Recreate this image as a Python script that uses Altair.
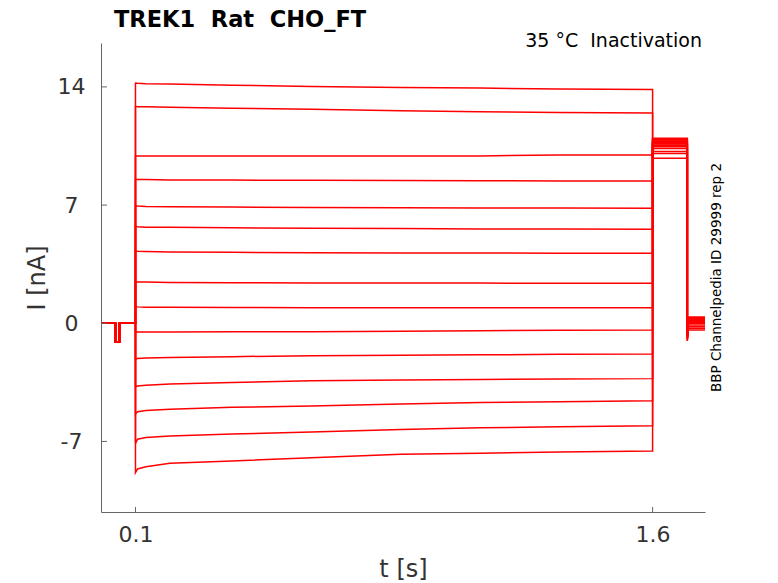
import altair as alt
import pandas as pd

# sample times of the test step (s)
step_t = [0.1, 0.106, 0.13, 0.2, 0.38, 0.61, 0.87, 1.1, 1.33, 1.6]

# current during the step for each sweep (nA)
sweeps = [
    [14.22, 14.21, 14.19, 14.17, 14.10, 14.03, 13.97, 13.93, 13.87, 13.84],
    [12.85, 12.83, 12.82, 12.79, 12.74, 12.67, 12.59, 12.53, 12.49, 12.46],
    [9.91, 9.91, 9.91, 9.90, 9.90, 9.90, 9.90, 9.91, 9.97, 9.97],
    [8.53, 8.52, 8.51, 8.49, 8.48, 8.47, 8.46, 8.44, 8.43, 8.43],
    [6.95, 6.94, 6.92, 6.90, 6.88, 6.86, 6.84, 6.83, 6.82, 6.81],
    [5.72, 5.71, 5.69, 5.68, 5.65, 5.62, 5.61, 5.59, 5.58, 5.57],
    [4.28, 4.27, 4.25, 4.22, 4.20, 4.18, 4.16, 4.16, 4.15, 4.15],
    [2.47, 2.45, 2.44, 2.42, 2.40, 2.39, 2.38, 2.38, 2.37, 2.37],
    [0.98, 0.97, 0.95, 0.95, 0.94, 0.92, 0.92, 0.92, 0.92, 0.92],
    [-0.52, -0.52, -0.52, -0.52, -0.50, -0.50, -0.47, -0.44, -0.42, -0.40],
    [-2.12, -2.09, -2.06, -2.03, -1.98, -1.92, -1.89, -1.87, -1.84, -1.82],
    [-3.76, -3.72, -3.67, -3.60, -3.51, -3.40, -3.36, -3.33, -3.30, -3.28],
    [-5.37, -5.24, -5.17, -5.10, -4.98, -4.90, -4.78, -4.70, -4.65, -4.59],
    [-7.11, -6.87, -6.77, -6.68, -6.56, -6.44, -6.30, -6.19, -6.13, -6.07],
    [-8.85, -8.63, -8.50, -8.29, -8.16, -7.96, -7.76, -7.70, -7.63, -7.57],
]

# holding phase (t, I)
hold_t = [0.0, 0.042, 0.042, 0.0536, 0.0536, 0.1]
hold_i = [0.0, 0.0, -1.13, -1.13, 0.0, 0.0]

# tail phases
tail1_t = [1.6, 1.7007]
tail1_i = [9.78, 10.06, 10.17, 10.35, 10.45, 10.55, 10.62, 10.70, 10.78, 10.85, 10.90, 10.96, 10.80, 10.65, 10.50]
tail2_t = [1.7007, 1.704, 1.752]
tail2_start = [-1.05, -1.0, -0.95, -0.9, -0.85, -0.8, -0.75, -0.7, -0.65, -0.6, -0.55, -0.5, -0.45, -0.4, -0.35]
tail2_level = [-0.4, -0.3, -0.2, -0.1, 0.0, 0.05, 0.1, 0.15, 0.2, 0.25, 0.3, 0.35, 0.35, 0.3, 0.2]

y_ticks = [-7, 0, 7, 14]
x_ticks = [0.1, 1.6]

rows = []
for k, sw in enumerate(sweeps):
    pts = list(zip(hold_t, hold_i))
    pts += list(zip(step_t, sw))
    pts += [(tail1_t[0], tail1_i[k]), (tail1_t[1], tail1_i[k])]
    pts += [(tail2_t[0], tail2_start[k]), (tail2_t[1], tail2_level[k]), (tail2_t[2], tail2_level[k])]
    for j, (t, v) in enumerate(pts):
        rows.append({"trace": k, "idx": j, "t": t, "i": v})
df = pd.DataFrame(rows)

W, H = 604, 469
FONT = "DejaVu Sans"

xs = alt.Scale(domain=[0, 1.752], nice=False, zero=False)
ys = alt.Scale(domain=[-11.18, 16.6], nice=False, zero=False)

label_expr = "datum.value < 0 ? '-' + abs(datum.value) : '' + datum.value"

lines = alt.Chart(df).mark_line(color="#ff0000", strokeWidth=1.5, clip=True).encode(
    x=alt.X("t:Q", scale=xs, axis=alt.Axis(
        values=x_ticks, ticks=False, grid=False, labelFlush=False, labelPadding=12,
        labelFontSize=22, labelColor="#333", labelFont=FONT, domainColor="#666",
        title="t [s]", titleFont=FONT, titleFontSize=24, titleFontWeight="normal",
        titleColor="#333", titleX=302, titleY=64, titleBaseline="alphabetic",
        titleAlign="center", labelExpr=label_expr)),
    y=alt.Y("i:Q", scale=ys, axis=alt.Axis(
        values=y_ticks, ticks=False, grid=False, labelFlush=False, labelPadding=30,
        labelAlign="center", labelBaseline="middle",
        labelFontSize=22, labelColor="#333", labelFont=FONT, domainColor="#666",
        title="I [nA]", titleFont=FONT, titleFontSize=24, titleFontWeight="normal",
        titleColor="#333", titleX=-57, titleY=H / 2, titleAngle=270,
        titleBaseline="alphabetic", titleAlign="center", labelExpr=label_expr)),
    detail="trace:N",
    order="idx:Q",
)

ytick = alt.Chart(pd.DataFrame({"v": y_ticks})).mark_rule(color="#666", strokeWidth=1).encode(
    y=alt.Y("v:Q", scale=ys), x=alt.value(0), x2=alt.value(6))
xtick = alt.Chart(pd.DataFrame({"t": x_ticks})).mark_rule(color="#666", strokeWidth=1).encode(
    x=alt.X("t:Q", scale=xs), y=alt.value(H), y2=alt.value(H - 5))

one = pd.DataFrame({"a": [0]})
title = alt.Chart(one).mark_text(font=FONT, fontSize=22.5, fontWeight="bold", align="left",
                                 baseline="alphabetic", color="#000").encode(
    x=alt.value(13), y=alt.value(-16.3),
    text=alt.value("TREK1\u00a0\u00a0Rat\u00a0\u00a0CHO_FT"))
cond = alt.Chart(one).mark_text(font=FONT, fontSize=19, align="right",
                                baseline="alphabetic", color="#000").encode(
    x=alt.value(601), y=alt.value(4.3),
    text=alt.value("35 °C\u00a0\u00a0Inactivation"))
ident = alt.Chart(one).mark_text(font=FONT, fontSize=13.5, align="center", angle=270,
                                 baseline="middle", color="#000").encode(
    x=alt.value(615.7), y=alt.value(H / 2),
    text=alt.value("BBP Channelpedia ID 29999 rep 2"))

chart = alt.layer(lines, ytick, xtick, title, cond, ident).properties(
    width=W, height=H,
    autosize=alt.AutoSizeParams(type="none"),
    padding={"left": 93, "top": 35, "right": 50, "bottom": 70},
).configure_view(stroke=None)

chart.save("out.html", embed_options={"renderer": "svg", "actions": False})
